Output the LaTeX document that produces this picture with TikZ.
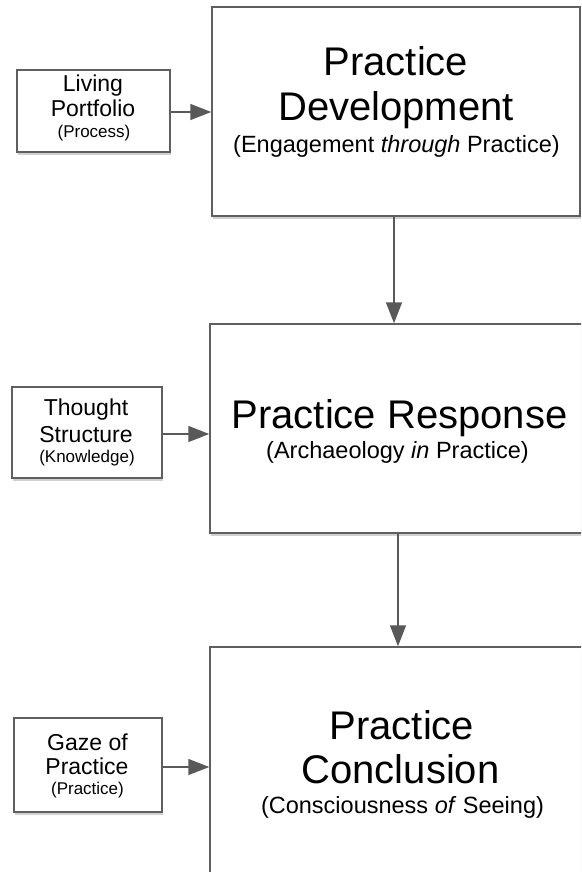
\documentclass[tikz,border=0pt]{standalone}
\usepackage{fontspec}
\setmainfont{Liberation Sans}
\usetikzlibrary{arrows.meta,shadows}
\definecolor{edgegray}{HTML}{5F5F5F}
\definecolor{arrgray}{HTML}{595959}
\tikzset{
  boxstyle/.style={draw=edgegray, line width=1.5pt, fill=white, rectangle, inner sep=0pt,
    drop shadow={shadow xshift=1pt, shadow yshift=-3pt, fill=black, opacity=0.18}},
  bigtxt/.style={anchor=base, inner sep=0pt, font=\fontsize{40}{45}\selectfont},
  subtxt/.style={anchor=base, inner sep=0pt, font=\fontsize{23.5}{27}\selectfont},
  smalltxt/.style={anchor=base, inner sep=0pt, font=\fontsize{23}{26}\selectfont},
  tinytxt/.style={anchor=base, inner sep=0pt, font=\fontsize{17}{20}\selectfont},
  arr/.style={draw=arrgray, line width=1.5pt, -{Triangle[length=21pt,width=16pt]}, arrgray}
}
\begin{document}
\begin{tikzpicture}[x=1pt,y=-1pt]
\useasboundingbox (0,0) rectangle (581,872);
\clip (0,0) rectangle (581,872);
\fill[white] (0,0) rectangle (581,872);
% big boxes
\node[boxstyle, minimum width=368pt, minimum height=209pt] (b1) at (396,111.5) {};
\node[boxstyle, minimum width=382pt, minimum height=209pt] (b2) at (401,428.5) {};
\node[boxstyle, minimum width=382pt, minimum height=253pt] (b3) at (401,773.5) {};
% small boxes
\node[boxstyle, minimum width=153pt, minimum height=82pt] (s1) at (93.5,111) {};
\node[boxstyle, minimum width=150pt, minimum height=91pt] (s2) at (87,432.5) {};
\node[boxstyle, minimum width=148pt, minimum height=94pt] (s3) at (88,765) {};
% texts big box 1
\node[bigtxt] (t1a) at (396,76) {Practice};
\node[bigtxt] (t1b) at (396,121) {Development};
\node[subtxt] (t1c) at (396.5,153) {(Engagement \textit{through} Practice)};
% big box 2
\node[bigtxt] (t2a) at (399.5,428) {Practice Response};
\node[subtxt] (t2b) at (397.5,458) {(Archaeology \textit{in} Practice)};
% big box 3
\node[bigtxt] (t3a) at (402,739) {Practice};
\node[bigtxt] (t3b) at (400.5,783) {Conclusion};
\node[subtxt] (t3c) at (402.5,813) {(Consciousness \textit{of} Seeing)};
% small box texts
\node[smalltxt] (u1a) at (93,92) {Living};
\node[smalltxt] (u1b) at (93,117) {Portfolio};
\node[tinytxt] (u1c) at (94,138) {(Process)};
\node[smalltxt] (u2a) at (86,415) {Thought};
\node[smalltxt] (u2b) at (86,442) {Structure};
\node[tinytxt] (u2c) at (87,462) {(Knowledge)};
\node[smalltxt] (u3a) at (87.5,750) {Gaze of};
\node[smalltxt] (u3b) at (87,774) {Practice};
\node[tinytxt] (u3c) at (87.5,794) {(Practice)};
% connectors
\draw[arr] ([yshift=-1pt]s1.east) -- ([yshift=-1pt]s1.east -| b1.west);
\draw[arr] ([yshift=-1.5pt]s2.east) -- ([yshift=-1.5pt]s2.east -| b2.west);
\draw[arr] ([yshift=-2pt]s3.east) -- ([yshift=-2pt]s3.east -| b3.west);
\draw[arr] ([xshift=-2pt]b1.south) -- ([xshift=-2pt]b1.south |- b2.north);
\draw[arr] ([xshift=-3pt]b2.south) -- ([xshift=-3pt]b2.south |- b3.north);
\end{tikzpicture}
\end{document}
